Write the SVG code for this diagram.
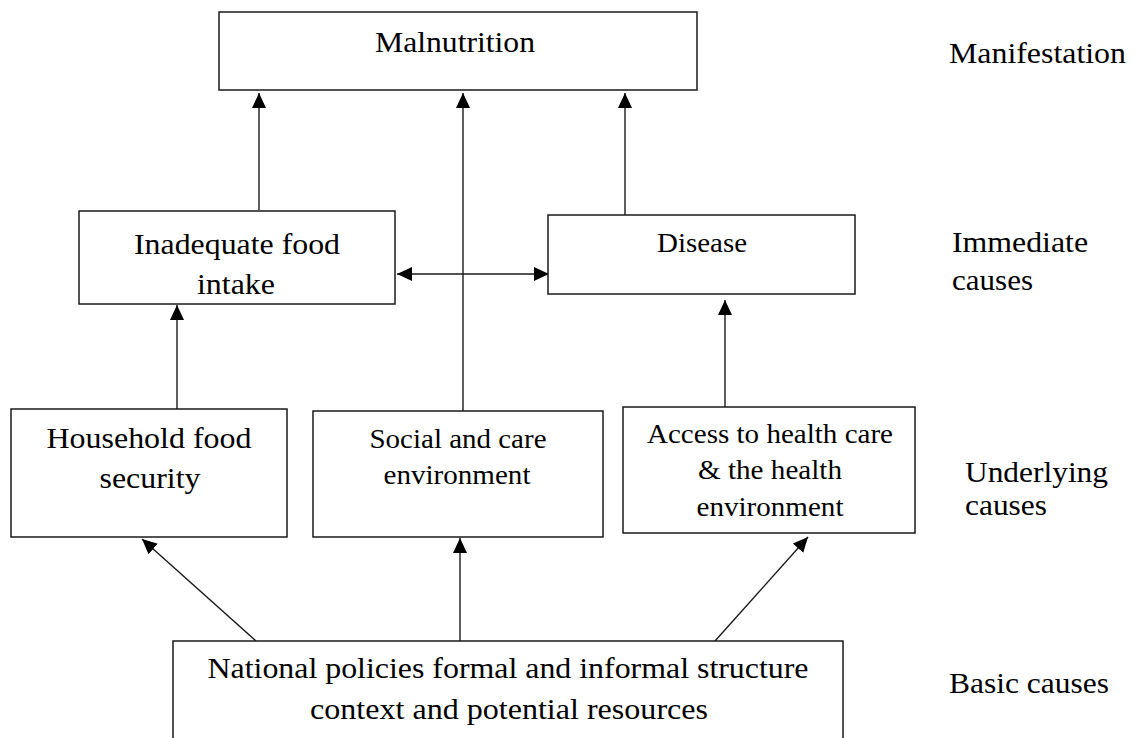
<svg xmlns="http://www.w3.org/2000/svg" width="1135" height="738" viewBox="0 0 1135 738">
<style>
.box{fill:#fff;stroke:#1a1a1a;stroke-width:1.5}
.t{font-family:"Liberation Serif","Times New Roman",serif;font-size:29px;fill:#000;text-anchor:middle}
.s{font-size:27px}
.lab{font-family:"Liberation Serif","Times New Roman",serif;font-size:30px;fill:#000}
.c{stroke:#1a1a1a;stroke-width:1.4;fill:none}
</style>
<defs>
<marker id="ah" markerUnits="userSpaceOnUse" markerWidth="16" markerHeight="14" refX="15" refY="7" orient="auto-start-reverse">
<path d="M0,0 L15,7 L0,14 z" fill="#000"/>
</marker>
</defs>
<rect width="1135" height="738" fill="#fff"/>
<g id="connectors">
<line class="c" x1="259" y1="210" x2="259" y2="93" marker-end="url(#ah)"/>
<line class="c" x1="463" y1="411" x2="463" y2="93" marker-end="url(#ah)"/>
<line class="c" x1="625" y1="215" x2="625" y2="93" marker-end="url(#ah)"/>
<line class="c" x1="397" y1="274" x2="549" y2="274" marker-start="url(#ah)" marker-end="url(#ah)"/>
<line class="c" x1="177" y1="409" x2="177" y2="305" marker-end="url(#ah)"/>
<line class="c" x1="725" y1="407" x2="725" y2="300" marker-end="url(#ah)"/>
<line class="c" x1="256" y1="641" x2="142" y2="539" marker-end="url(#ah)"/>
<line class="c" x1="460" y1="641" x2="460" y2="538" marker-end="url(#ah)"/>
<line class="c" x1="715" y1="641" x2="808" y2="537" marker-end="url(#ah)"/>
</g>
<g id="malnutrition">
<rect class="box" x="219" y="12" width="478" height="78"/>
<text class="t" x="455" y="52" textLength="160" lengthAdjust="spacingAndGlyphs">Malnutrition</text>
</g>
<g id="inadequate">
<rect class="box" x="79" y="211" width="316" height="93"/>
<text class="t" x="237" y="254" textLength="206" lengthAdjust="spacingAndGlyphs">Inadequate food</text>
<text class="t" x="236" y="294" textLength="78" lengthAdjust="spacingAndGlyphs">intake</text>
</g>
<g id="disease">
<rect class="box" x="548" y="215" width="307" height="79"/>
<text class="t s" x="702" y="252" textLength="90" lengthAdjust="spacingAndGlyphs">Disease</text>
</g>
<g id="household">
<rect class="box" x="11" y="409" width="276" height="128"/>
<text class="t" x="149" y="448" textLength="205" lengthAdjust="spacingAndGlyphs">Household food</text>
<text class="t" x="150" y="488" textLength="101" lengthAdjust="spacingAndGlyphs">security</text>
</g>
<g id="social">
<rect class="box" x="313" y="411" width="290" height="126"/>
<text class="t s" x="458" y="448" textLength="177" lengthAdjust="spacingAndGlyphs">Social and care</text>
<text class="t s" x="457" y="484" textLength="147" lengthAdjust="spacingAndGlyphs">environment</text>
</g>
<g id="access">
<rect class="box" x="623" y="407" width="292" height="126"/>
<text class="t s" x="770" y="443" textLength="246" lengthAdjust="spacingAndGlyphs">Access to health care</text>
<text class="t s" x="770" y="479" textLength="144" lengthAdjust="spacingAndGlyphs">&amp; the health</text>
<text class="t s" x="770" y="516" textLength="147" lengthAdjust="spacingAndGlyphs">environment</text>
</g>
<g id="national">
<rect class="box" x="173" y="641" width="670" height="110"/>
<text class="t" x="508" y="678" textLength="601" lengthAdjust="spacingAndGlyphs">National policies formal and informal structure</text>
<text class="t" x="509" y="719" textLength="398" lengthAdjust="spacingAndGlyphs">context and potential resources</text>
</g>
<g id="levels">
<text class="lab" x="949" y="63" textLength="177" lengthAdjust="spacingAndGlyphs">Manifestation</text>
<text class="lab" x="952" y="252" textLength="136" lengthAdjust="spacingAndGlyphs">Immediate</text>
<text class="lab" x="952" y="290" textLength="81" lengthAdjust="spacingAndGlyphs">causes</text>
<text class="lab" x="965" y="482" textLength="143" lengthAdjust="spacingAndGlyphs">Underlying</text>
<text class="lab" x="965" y="515" textLength="82" lengthAdjust="spacingAndGlyphs">causes</text>
<text class="lab" x="949" y="693" textLength="160" lengthAdjust="spacingAndGlyphs">Basic causes</text>
</g>
</svg>
